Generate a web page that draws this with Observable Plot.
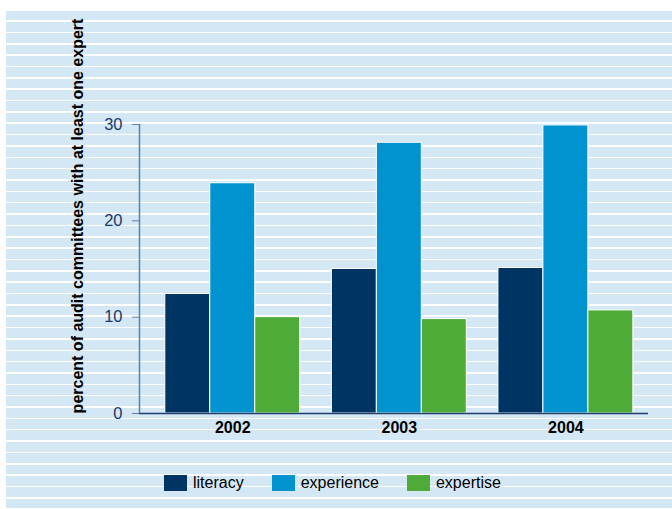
<!DOCTYPE html>
<html><head><meta charset="utf-8">
<script src="https://cdn.jsdelivr.net/npm/d3@7"></script>
<script src="https://cdn.jsdelivr.net/npm/@observablehq/plot@0.6"></script>
<style>
html,body{margin:0;padding:0;background:#fff;width:672px;height:509px;overflow:hidden;}
#panel{position:absolute;left:6px;top:8.65px;width:666px;height:501px;
background:repeating-linear-gradient(to bottom,#ffffff 0px,#ffffff 1.5px,#d3e7f5 1.5px,#d3e7f5 11.35px);}
#chart,#axes{position:absolute;left:0;top:0;}
#legend{position:absolute;left:164px;top:466.5px;}
#legend span[class*="-swatch"]{margin-right:28px !important;}
#legend span[class*="-swatch"] > svg{margin-right:6px !important;}
g[aria-label="y-axis label"] text{fill:#000;font-weight:bold;font-size:16px;}
</style>
</head><body>
<div id="panel"></div>
<div id="chart"></div>
<div id="axes"></div>
<div id="legend"></div>
<script>
const years = ["2002", "2003", "2004"];
const series = ["literacy", "experience", "expertise"];
const literacy = [12.4, 15.0, 15.1];
const experience = [23.9, 28.1, 29.9];
const expertise = [10.0, 9.8, 10.7];
const colors = ["#003462", "#0093d0", "#4fab38"];
const yTicks = [0, 10, 20, 30];
const yLabel = "percent of audit committees with at least one expert";

const values = {literacy, experience, expertise};
const data = years.flatMap((year, i) => series.map(s => ({year, series: s, value: values[s][i]})));

const font = "'Liberation Sans', Arial, Helvetica, sans-serif";
const layout = {width: 672, height: 460, marginLeft: 139, marginRight: 24, marginTop: 18, marginBottom: 47};
const yScale = {domain: [0, 41], axis: null};
const style = {background: "transparent", fontFamily: font, fontSize: "16px", overflow: "visible"};

const plot = Plot.plot({
  ...layout, style,
  fx: {domain: years, paddingInner: 0.19, paddingOuter: 0.123, align: 0.63, round: false, label: null},
  x: {domain: series, padding: 0, round: false, axis: null},
  y: yScale,
  color: {domain: series, range: colors},
  marks: [
    Plot.barY(data, {fx: "year", x: "series", y: "value", fill: "series", stroke: "white", strokeWidth: 1}),
    Plot.axisFx({anchor: "bottom", tickSize: 0, tickPadding: 8, label: null, fontWeight: "bold", fill: "#000", fontSize: 16})
  ]
});
document.getElementById("chart").append(plot);

const axes = Plot.plot({
  ...layout, style,
  x: {domain: [0, 1], axis: null},
  y: yScale,
  marks: [
    Plot.ruleY([0], {stroke: "#1f3f6c", strokeWidth: 1.5}),
    Plot.ruleX([0], {y1: yTicks[0], y2: yTicks[yTicks.length - 1], stroke: "#5b80a8", strokeWidth: 1.5}),
    Plot.axisY({ticks: yTicks, tickSize: 7, tickPadding: 10, stroke: "#5b80a8", fill: "#1c3a66",
      fontSize: 16.5, label: yLabel, labelAnchor: "center", labelOffset: 68, labelArrow: false})
  ]
});
document.getElementById("axes").append(axes);

const legend = plot.legend("color", {swatchWidth: 23, swatchHeight: 16,
  style: {fontFamily: font, fontSize: "16px", color: "#000"}});
document.getElementById("legend").append(legend);
</script>
</body></html>
